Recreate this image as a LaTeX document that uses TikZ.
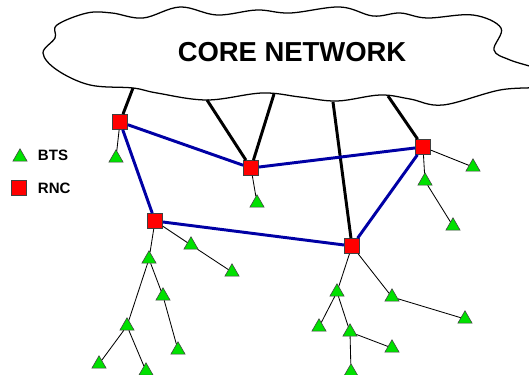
\documentclass[tikz,border=0pt]{standalone}
\usepackage{fontspec}
\setmainfont{Liberation Sans}
\usetikzlibrary{shapes.geometric}
\definecolor{rncred}{RGB}{255,0,0}
\definecolor{btsgreen}{RGB}{0,225,0}
\definecolor{linkblue}{RGB}{0,0,165}
\begin{document}
\begin{tikzpicture}[x=0.025cm,y=-0.025cm,
	rnc/.style={draw=black!75,fill=rncred,minimum size=0.38cm,inner sep=0pt},
	bts/.style={draw=black!75,fill=btsgreen,regular polygon,regular polygon sides=3,minimum size=0.41cm,inner sep=0pt},
	core/.style={line width=2.1pt},
	ring/.style={draw=linkblue,line width=2.1pt},
	feed/.style={line width=0.6pt},
	legend/.style={anchor=west,font=\fontsize{10.7}{12}\selectfont\bfseries}]
	\useasboundingbox (0,0) rectangle (529,375);
	\clip (0,0) rectangle (529,375);
	% cloud
	\draw[line width=0.9pt,fill=white] plot[smooth cycle,tension=0.6] coordinates {
		(57,25) (87,13) (112,13) (143,18) (180,7) (217,15) (257,10) (290,13)
		(340,7) (373,16) (400,13) (427,18) (473,15) (501,28) (494,50) (510,60)
		(545,72) (545,86) (500,90) (443,105) (410,99) (380,95) (337,101) (300,97)
		(262,93) (207,100) (157,93) (133,88) (90,85) (57,70) (43,53) (55,38)};
	\node[font=\fontsize{19.5}{22}\selectfont\bfseries] (core) at (292,52) {CORE NETWORK};
	\coordinate (c1) at (133,88);
	\coordinate (c2) at (207,100);
	\coordinate (c3) at (274,94);
	\coordinate (c4) at (388,96);
	\coordinate (c5) at (333,102);
	% RNCs
	\node[rnc] (r1) at (120,122) {};
	\node[rnc] (r2) at (251,168) {};
	\node[rnc] (r3) at (155,221) {};
	\node[rnc] (r4) at (423,147) {};
	\node[rnc] (r5) at (352,246) {};
	% BTSs
	\node[bts] (t1) at (116,158) {};
	\node[bts] (t2) at (257,203) {};
	\node[bts] (t3) at (191,245) {};
	\node[bts] (t4) at (232,272) {};
	\node[bts] (t5) at (149,259) {};
	\node[bts] (t6) at (163,296) {};
	\node[bts] (t7) at (178,350) {};
	\node[bts] (t8) at (127,326) {};
	\node[bts] (t9) at (99,364) {};
	\node[bts] (t10) at (146,371) {};
	\node[bts] (t11) at (473,167) {};
	\node[bts] (t12) at (425,181) {};
	\node[bts] (t13) at (453,226) {};
	\node[bts] (t14) at (337,292) {};
	\node[bts] (t15) at (319,327) {};
	\node[bts] (t16) at (350,332) {};
	\node[bts] (t17) at (392,348) {};
	\node[bts] (t18) at (351,372) {};
	\node[bts] (t19) at (392,297) {};
	\node[bts] (t20) at (465,319) {};
	% links
	\draw[core] (c1)--(r1);
	\draw[core] (c2)--(r2);
	\draw[core] (c3)--(r2);
	\draw[core] (c5)--(r5);
	\draw[core] (c4)--(r4);
	\draw[ring] (r1)--(r2)--(r4)--(r5)--(r3)--(r1);
	\draw[feed] (r1)--(t1);
	\draw[feed] (r2)--(t2);
	\draw[feed] (r3)--(t3)--(t4);
	\draw[feed] (r3)--(t5)--(t6)--(t7);
	\draw[feed] (t5)--(t8)--(t9);
	\draw[feed] (t8)--(t10);
	\draw[feed] (r4)--(t11);
	\draw[feed] (r4)--(t12)--(t13);
	\draw[feed] (r5)--(t14)--(t15);
	\draw[feed] (t14)--(t16)--(t17);
	\draw[feed] (t16)--(t18);
	\draw[feed] (r5)--(t19)--(t20);
	% legend
	\node[bts] (lb) at (20,157) {};
	\node[legend] (lbt) at (33,155) {BTS};
	\node[rnc] (lr) at (19,188) {};
	\node[legend] (lrt) at (33,188) {RNC};
\end{tikzpicture}
\end{document}
